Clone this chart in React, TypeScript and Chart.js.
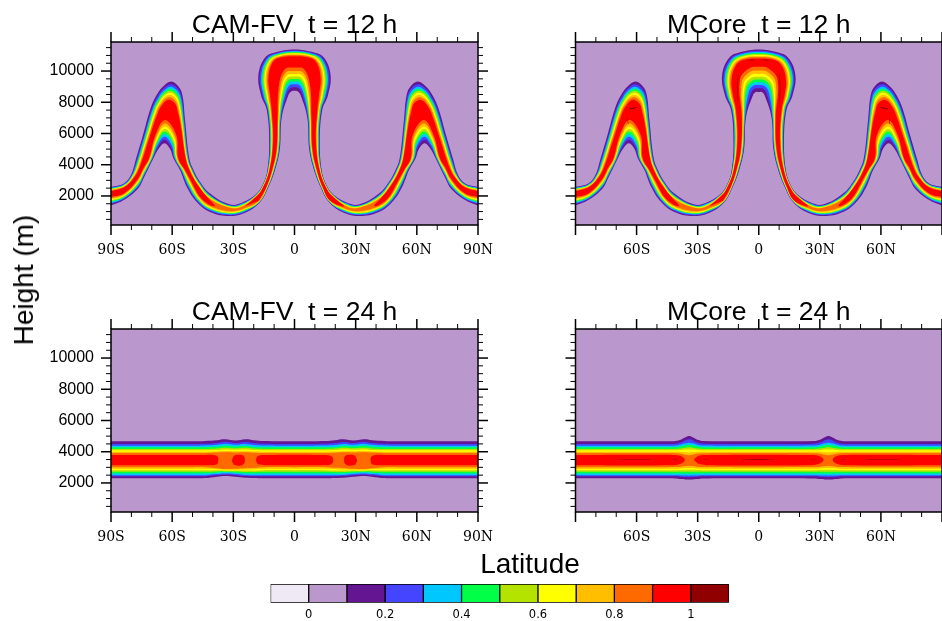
import React, { useEffect, useRef } from "react";
import { Chart, registerables } from "chart.js";
Chart.register(...registerables);

type Row = [number | number[], number | number[]];
type Pt = [number, number];

const LEVEL_COLORS = ["#631592", "#4545FF", "#00C8FF", "#00FF46", "#B5E300", "#FFFF00", "#FFBF00", "#FF6A00", "#FF0000"];
const DARK_RED = "#910000";
const BACKGROUND = "#BA97CD";
const CBAR_COLORS = ["#EFE9F5", BACKGROUND, ...LEVEL_COLORS, DARK_RED];
const CBAR_EDGES = [-0.1, 0, 0.1, 0.2, 0.3, 0.4, 0.5, 0.6, 0.7, 0.8, 0.9, 1, 1.1];
const CBAR_LABELS = [0, 0.2, 0.4, 0.6, 0.8, 1];

const LAT_MAJOR = [-90, -60, -30, 0, 30, 60, 90];
const LAT_INNER = [-60, -30, 0, 30, 60];
const LAT_MINOR = [-80, -70, -50, -40, -20, -10, 10, 20, 40, 50, 70, 80];
const HEIGHT_MAJOR = [2000, 4000, 6000, 8000, 10000];
const HEIGHT_MINOR = [500, 1000, 1500, 2500, 3000, 3500, 4500, 5000, 5500, 6500, 7000, 7500, 8500, 9000, 9500, 10500, 11000, 11500];

// t = 12 h, CAM-FV: outer side of the band, per contour 0.1 ... 0.9, from the southern edge to the equator
const TOP_12_FV: Row[] = [
  [-90, [2577, 2538, 2505, 2477, 2448, 2420, 2392, 2359, 2320]],
  [-83.3, [2833, 2795, 2762, 2734, 2706, 2679, 2651, 2618, 2580]],
  [[-80, -79.85, -79.7, -79.6, -79.5, -79.4, -79.3, -79.15, -79], [3400, 3360, 3325, 3295, 3265, 3235, 3205, 3170, 3130]],
  [[-78, -77.7, -77.4, -77.2, -77, -76.8, -76.6, -76.3, -76], [4250, 4185, 4130, 4085, 4035, 3990, 3940, 3890, 3830]],
  [[-74.5, -74, -73.7, -73.3, -73, -72.7, -72.3, -72, -71.5], [5800, 5770, 5744, 5722, 5700, 5678, 5656, 5630, 5600]],
  [[-70.5, -69.9, -69.5, -69.1, -68.7, -68.2, -67.8, -67.4, -66.8], [7650, 7614, 7583, 7556, 7530, 7504, 7477, 7446, 7410]],
  [[-67.6, -67.1, -66.7, -66.4, -66.1, -65.7, -65.4, -65, -64.5], [8470, 8385, 8310, 8248, 8185, 8122, 8060, 7985, 7900]],
  [[-64.3, -64.1, -63.9, -63.8, -63.7, -63.5, -63.4, -63.2, -63], [9030, 8890, 8770, 8667, 8565, 8463, 8360, 8240, 8100]],
  [[-60.5, -60.6, -60.6, -60.7, -60.8, -60.8, -60.9, -60.9, -61], [9330, 9153, 9000, 8870, 8740, 8610, 8480, 8327, 8150]],
  [[-57, -57.2, -57.4, -57.6, -57.8, -57.9, -58.1, -58.3, -58.5], [9030, 8860, 8714, 8589, 8465, 8341, 8216, 8070, 7900]],
  [[-55, -55.3, -55.6, -55.9, -56.2, -56.4, -56.7, -57, -57.3], [8470, 8311, 8173, 8057, 7940, 7823, 7707, 7569, 7410]],
  [[-53.7, -54, -54.3, -54.5, -54.8, -55, -55.2, -55.5, -55.8], [6870, 6815, 6766, 6726, 6685, 6644, 6604, 6556, 6500]],
  [[-51.6, -51.9, -52.2, -52.4, -52.6, -52.8, -53, -53.2, -53.4], 4417],
  [[-49.5, -49.8, -50.1, -50.3, -50.5, -50.7, -51, -51.2, -51.5], 3650],
  [[-46.3, -46.5, -46.6, -46.8, -46.9, -47, -47.2, -47.3, -47.5], [2900, 2870, 2844, 2822, 2800, 2778, 2756, 2730, 2700]],
  [[-41.4, -41.5, -41.6, -41.6, -41.7, -41.8, -41.8, -41.9, -42], [2150, 2098, 2052, 2014, 1975, 1936, 1898, 1852, 1800]],
  [[-31.6, -31.5, -31.4, -31.4, -31.3, -31.2, -31.2, -31.1, -31], [1450, 1411, 1377, 1349, 1320, 1291, 1263, 1229, 1190]],
  [[-25, -25.1, -25.1, -25.2, -25.3, -25.3, -25.4, -25.4, -25.5], [1615, 1568, 1527, 1492, 1458, 1423, 1388, 1347, 1300]],
  [[-18.5, -18.6, -18.6, -18.7, -18.8, -18.8, -18.9, -18.9, -19], [2150, 2118, 2090, 2067, 2043, 2019, 1996, 1968, 1936]],
  [[-15.3, -15.4, -15.5, -15.6, -15.7, -15.7, -15.8, -15.9, -16], [2790, 2732, 2681, 2638, 2595, 2552, 2509, 2459, 2400]],
  [[-13.3, -13.15, -13, -12.9, -12.8, -12.7, -12.6, -12.45, -12.3], 3647],
  [[-12.4, -12.1, -11.9, -11.7, -11.45, -11.2, -11, -10.8, -10.5], 5500],
  [[-13.6, -13.2, -12.9, -12.7, -12.4, -12.1, -11.9, -11.6, -11.2], 7500],
  [[-16.4, -15.7, -15.2, -14.7, -14.2, -13.7, -13.2, -12.7, -12], 8455],
  [[-17.7, -17, -16.3, -15.8, -15.25, -14.7, -14.2, -13.5, -12.8], [9737, 9705, 9678, 9654, 9631, 9608, 9584, 9557, 9525]],
  [[-14.5, -14, -13.5, -13.1, -12.75, -12.4, -12, -11.5, -11], [10846, 10794, 10749, 10711, 10673, 10635, 10597, 10552, 10500]],
  [[-9.6, -9.3, -9, -8.8, -8.55, -8.3, -8.1, -7.8, -7.5], [11190, 11139, 11095, 11057, 11020, 10983, 10945, 10901, 10850]],
  [0, [11385, 11320, 11265, 11217, 11170, 11123, 11075, 11020, 10955]],
];

const BOTTOM_12_FV: Row[] = [
  [-90, [1400, 1480, 1550, 1609, 1668, 1727, 1786, 1856, 1936]],
  [-83.3, [1770, 1833, 1888, 1935, 1981, 2027, 2074, 2129, 2192]],
  [-76.7, [2474, 2570, 2653, 2724, 2795, 2865, 2936, 3019, 3115]],
  [[-74.3, -74.25, -74.2, -74.2, -74.15, -74.1, -74.1, -74, -74], [3050, 3163, 3260, 3343, 3425, 3508, 3590, 3688, 3800]],
  [[-69.2, -69.5, -69.8, -70, -70.25, -70.5, -70.7, -71, -71.3], 4417],
  [[-66.5, -66.75, -67, -67.2, -67.35, -67.5, -67.7, -67.95, -68.2], [5050, 5179, 5291, 5385, 5480, 5575, 5669, 5781, 5910]],
  [[-63.8, -63.8, -63.7, -63.7, -63.65, -63.6, -63.6, -63.5, -63.5], [5380, 5604, 5797, 5961, 6125, 6289, 6453, 6647, 6870]],
  [[-61, -60.55, -60.2, -59.8, -59.5, -59.2, -58.8, -58.45, -58], [5000, 5137, 5255, 5355, 5455, 5555, 5655, 5774, 5910]],
  [[-59.4, -59, -58.7, -58.5, -58.2, -57.9, -57.7, -57.4, -57], 4417],
  [[-56.1, -55.7, -55.4, -55.2, -54.9, -54.6, -54.4, -54, -53.7], 3647],
  [[-52.8, -52.45, -52.15, -51.9, -51.65, -51.4, -51.1, -50.85, -50.5], [2577, 2625, 2667, 2703, 2739, 2774, 2810, 2852, 2900]],
  [[-47.9, -47.65, -47.45, -47.3, -47.1, -46.9, -46.75, -46.5, -46.3], [1615, 1663, 1705, 1740, 1776, 1811, 1846, 1888, 1936]],
  [[-41.4, -41.35, -41.3, -41.3, -41.3, -41.3, -41.25, -41.2, -41.2], [975, 1039, 1094, 1141, 1188, 1234, 1281, 1336, 1400]],
  [[-31.6, -31.5, -31.4, -31.4, -31.3, -31.2, -31.2, -31.1, -31], [718, 771, 817, 855, 894, 933, 971, 1017, 1070]],
  [[-23.4, -23.5, -23.6, -23.6, -23.7, -23.8, -23.8, -23.9, -24], [975, 1022, 1063, 1098, 1133, 1167, 1202, 1243, 1290]],
  [[-16.9, -17, -17.05, -17.1, -17.2, -17.25, -17.3, -17.4, -17.5], [1615, 1628, 1639, 1648, 1658, 1667, 1676, 1687, 1700]],
  [[-12.8, -12.95, -13.1, -13.2, -13.3, -13.4, -13.5, -13.65, -13.8], 2577],
  [[-9.6, -9.8, -10, -10.15, -10.3, -10.45, -10.6, -10.8, -11], 3647],
  [[-7.2, -7.45, -7.65, -7.8, -8, -8.2, -8.35, -8.55, -8.8], 5000],
  [[-6.3, -6.6, -6.85, -7.1, -7.3, -7.5, -7.75, -8, -8.3], 7000],
  [[-3, -3.7, -4.3, -4.8, -5.3, -5.8, -6.3, -6.9, -7.6], [8455, 8552, 8636, 8707, 8778, 8848, 8919, 9003, 9100]],
  [[-1.5, -2, -2.4, -2.75, -3.1, -3.45, -3.8, -4.2, -4.7], [8700, 8913, 9098, 9254, 9410, 9566, 9722, 9907, 10120]],
  [0, [8745, 8966, 9158, 9320, 9483, 9645, 9807, 9999, 10220]],
];

// t = 12 h, MCore: same stem and humps, its own hat
const HAT_TOP_12_MC: Row[] = [
  [[-16.6, -16, -15.5, -15.1, -14.65, -14.2, -13.8, -13.3, -12.7], 8455],
  [[-18, -17.3, -16.7, -16.2, -15.7, -15.2, -14.7, -14.1, -13.4], [9737, 9689, 9647, 9612, 9577, 9542, 9507, 9465, 9417]],
  [[-14.5, -14.05, -13.66, -13.33, -13, -12.67, -12.34, -11.95, -11.5], [10846, 10764, 10693, 10633, 10573, 10513, 10453, 10382, 10300]],
  [[-9.6, -9.3, -9.1, -8.9, -8.7, -8.5, -8.3, -8.07, -7.8], [11190, 11116, 11053, 11000, 10945, 10891, 10837, 10773, 10700]],
  [0, [11385, 11298, 11223, 11160, 11096, 11032, 10969, 10894, 10807]],
];
const HAT_BOTTOM_12_MC: Row[] = [
  [[-3, -3.9, -4.8, -5.5, -6.15, -6.8, -7.5, -8.35, -9.3], [8400, 8553, 8685, 8797, 8909, 9020, 9132, 9264, 9417]],
  [[-1.5, -2, -2.5, -2.9, -3.25, -3.6, -4, -4.5, -5], [8650, 8875, 9070, 9235, 9400, 9565, 9730, 9925, 10150]],
  [0, [8650, 8893, 9104, 9282, 9460, 9638, 9816, 10027, 10270]],
];
const TOP_12_MC: Row[] = [...TOP_12_FV.slice(0, 23), ...HAT_TOP_12_MC];
const BOTTOM_12_MC: Row[] = [...BOTTOM_12_FV.slice(0, 20), ...HAT_BOTTOM_12_MC];
const RED_TIP_SOUTH: Pt = [-39, 1360];
const RED_TIP_NORTH: Pt = [-24.3, 1340];
const DARK_12_MC: Pt[][] = [
  [[-4.5, 10720], [-4.5, 10680], [-2, 10700], [-2, 10740]],
  [[-10.2, 9800], [-10.6, 9000], [-10.4, 8100], [-10.1, 8100], [-10.3, 9000], [-9.9, 9800]],
  [[-63.5, 7600], [-60, 7700], [-60, 7640], [-63.5, 7540]],
  [[-64.5, 7000], [-64.2, 6600], [-64, 6600], [-64.3, 7000]],
];

// t = 24 h
const LAT_24_FV = [-90, -50, -44, -38, -34, -29, -24, -20, -15, 0];
const TOP_24_FV = [
  [4669, 4669, 4690, 4740, 4800, 4720, 4800, 4740, 4690, 4669],
  [4497, 4497, 4510, 4560, 4640, 4560, 4630, 4560, 4510, 4497],
  [4390, 4390, 4400, 4440, 4510, 4450, 4500, 4430, 4400, 4390],
  [4282, 4282, 4290, 4330, 4390, 4340, 4370, 4310, 4290, 4282],
  [4175, 4175, 4180, 4210, 4260, 4220, 4250, 4200, 4180, 4175],
  [4090, 4090, 4095, 4110, 4150, 4125, 4140, 4105, 4095, 4090],
  [4000, 4000, 4005, 4020, 4040, 4025, 4035, 4015, 4005, 4000],
  [3920, 3920, 3925, 3945, 3965, 3950, 3960, 3940, 3925, 3920],
];
const BOTTOM_24_FV = [
  [2304, 2304, 2310, 2400, 2440, 2400, 2330, 2320, 2304, 2304],
  [2433, 2433, 2435, 2490, 2530, 2500, 2440, 2430, 2433, 2433],
  [2497, 2497, 2500, 2570, 2610, 2580, 2510, 2500, 2497, 2497],
  [2605, 2605, 2610, 2660, 2680, 2660, 2610, 2600, 2605, 2605],
  [2712, 2712, 2715, 2740, 2740, 2735, 2700, 2700, 2712, 2712],
  [2820, 2820, 2820, 2810, 2800, 2800, 2790, 2800, 2820, 2820],
  [2906, 2906, 2905, 2880, 2850, 2850, 2860, 2885, 2906, 2906],
  [3013, 3013, 3010, 2940, 2890, 2910, 2945, 2975, 3013, 3013],
];
const RED_24_FV_SOUTH: Pt[] = [[-92, 3788], [-45, 3788], [-39, 3780], [-37.5, 3650], [-37.4, 3400], [-38, 3200], [-42, 3140], [-92, 3142]];
const RED_24_FV_BLOB: Pt[] = [[-30.8, 3440], [-29.5, 3760], [-27.5, 3800], [-25, 3740], [-24.3, 3440], [-25.2, 3180], [-27.5, 3100], [-29.8, 3160]];
const RED_24_FV_MID: Pt[] = [[-19, 3450], [-18, 3720], [-14, 3788], [14, 3788], [18, 3720], [19, 3450], [18, 3200], [14, 3142], [-14, 3142], [-18, 3200]];

const LAT_24_MC = [-90, -45, -41, -38, -36, -34.2, -32.5, -30.5, -27, 0];
const TOP_24_MC = [
  [4669, 4669, 4690, 4790, 4920, 5000, 4920, 4790, 4690, 4669],
  [4497, 4497, 4510, 4600, 4740, 4800, 4740, 4600, 4510, 4497],
  [4390, 4390, 4400, 4470, 4540, 4580, 4540, 4470, 4400, 4390],
  [4282, 4282, 4290, 4350, 4410, 4430, 4410, 4350, 4290, 4282],
  [4175, 4175, 4180, 4220, 4260, 4280, 4260, 4220, 4180, 4175],
  [4090, 4090, 4095, 4115, 4140, 4150, 4140, 4115, 4095, 4090],
  [4000, 4000, 3995, 3985, 3960, 3950, 3960, 3985, 3995, 4000],
  [3920, 3920, 3910, 3870, 3800, 3770, 3800, 3870, 3910, 3920],
];
const BOTTOM_24_MC = [
  [2304, 2304, 2290, 2250, 2225, 2218, 2225, 2250, 2290, 2304],
  [2433, 2433, 2425, 2395, 2380, 2370, 2380, 2395, 2425, 2433],
  [2497, 2497, 2495, 2480, 2470, 2465, 2470, 2480, 2495, 2497],
  [2605, 2605, 2605, 2600, 2590, 2585, 2590, 2600, 2605, 2605],
  [2712, 2712, 2712, 2715, 2715, 2715, 2715, 2715, 2712, 2712],
  [2820, 2820, 2820, 2830, 2840, 2845, 2840, 2830, 2820, 2820],
  [2906, 2906, 2910, 2925, 2950, 2965, 2950, 2925, 2910, 2906],
  [3013, 3013, 3020, 3045, 3085, 3110, 3085, 3045, 3020, 3013],
];
const RED_24_MC_SOUTH: Pt[] = [[-92, 3788], [-42, 3788], [-38, 3710], [-36.3, 3480], [-38, 3240], [-42, 3142], [-92, 3142]];
const RED_24_MC_MID: Pt[] = [[-31.9, 3480], [-30, 3710], [-26, 3788], [26, 3788], [30, 3710], [31.9, 3480], [30, 3240], [26, 3142], [-26, 3142], [-30, 3240]];
const DARK_24_MC: Pt[][] = [
  [[-70, 3492], [-53, 3492], [-53, 3468], [-70, 3468]],
  [[-42.8, 3492], [-40.3, 3492], [-40.3, 3468], [-42.8, 3468]],
  [[-27.5, 3492], [-25.5, 3492], [-25.5, 3468], [-27.5, 3468]],
  [[-8, 3492], [4, 3492], [4, 3468], [-8, 3468]],
];

const pick = (v: number | number[], i: number) => (Array.isArray(v) ? v[i] : v);
const contour = (rows: Row[], i: number): Pt[] => rows.map((r) => [pick(r[0], i), pick(r[1], i)]);
const mirror = (pts: Pt[]): Pt[] => pts.map(([a, h]) => [-a, h]);
const noEq = (pts: Pt[]) => pts.filter((p) => p[0] !== 0);

function band(top: Pt[], bottom: Pt[]): Pt[] {
  return [
    [-92, top[0][1]],
    ...top,
    ...mirror(noEq(top).reverse()),
    [92, top[0][1]],
    [92, bottom[0][1]],
    ...mirror(noEq(bottom)),
    ...bottom.slice().reverse(),
    [-92, bottom[0][1]],
  ];
}

type Poly = { pts: Pt[]; color: string };

function panel12(topRows: Row[], bottomRows: Row[], dark: Pt[][]): Poly[] {
  const out: Poly[] = [];
  for (let i = 0; i < 8; i++) out.push({ pts: band(contour(topRows, i), contour(bottomRows, i)), color: LEVEL_COLORS[i] });
  const t = contour(topRows, 8);
  const b = contour(bottomRows, 8);
  const south: Pt[] = [[-92, t[0][1]], ...t.slice(0, 16), RED_TIP_SOUTH, ...b.slice(0, 13).reverse(), [-92, b[0][1]]];
  out.push({ pts: south, color: LEVEL_COLORS[8] }, { pts: mirror(south), color: LEVEL_COLORS[8] });
  const tn = t.slice(18);
  const bn = b.slice(15);
  const mid: Pt[] = [RED_TIP_NORTH, ...tn, ...mirror(noEq(tn).reverse()), [-RED_TIP_NORTH[0], RED_TIP_NORTH[1]], ...mirror(noEq(bn)), ...bn.slice().reverse()];
  out.push({ pts: mid, color: LEVEL_COLORS[8] });
  dark.forEach((d) => out.push({ pts: d, color: DARK_RED }, { pts: mirror(d), color: DARK_RED }));
  return out;
}

function panel24(lat: number[], top: number[][], bottom: number[][], reds: Pt[][], dark: Pt[][]): Poly[] {
  const out: Poly[] = top.map((row, i) => ({
    pts: band(row.map((h, k) => [lat[k], h] as Pt), bottom[i].map((h, k) => [lat[k], h] as Pt)),
    color: LEVEL_COLORS[i],
  }));
  reds.forEach((r) => out.push({ pts: r, color: LEVEL_COLORS[8] }));
  dark.forEach((d) => out.push({ pts: d, color: DARK_RED }, { pts: mirror(d), color: DARK_RED }));
  return out;
}

const PANELS = [
  { title: "CAM-FV  t = 12 h", left: 111, top: 42, labels: true, polys: panel12(TOP_12_FV, BOTTOM_12_FV, []) },
  { title: "MCore  t = 12 h", left: 575.5, top: 42, labels: false, polys: panel12(TOP_12_MC, BOTTOM_12_MC, DARK_12_MC) },
  {
    title: "CAM-FV  t = 24 h", left: 111, top: 328.5, labels: true,
    polys: panel24(LAT_24_FV, TOP_24_FV, BOTTOM_24_FV, [RED_24_FV_SOUTH, mirror(RED_24_FV_SOUTH), RED_24_FV_BLOB, mirror(RED_24_FV_BLOB), RED_24_FV_MID], []),
  },
  {
    title: "MCore  t = 24 h", left: 575.5, top: 328.5, labels: false,
    polys: panel24(LAT_24_MC, TOP_24_MC, BOTTOM_24_MC, [RED_24_MC_SOUTH, mirror(RED_24_MC_SOUTH), RED_24_MC_MID], DARK_24_MC),
  },
];

const FRAME_W = 367;
const FRAME_H = 183;
const AXIS_W = 60.5;
const TITLE_BLOCK = 30;
const TITLE_SIZE = 26.5;
const BELOW = 40;
const RIGHT = 22;

const latLabel = (v: number) => (v === 0 ? "0" : v < 0 ? `${-v}S` : `${v}N`);

const framePlugin = {
  id: "frame",
  beforeDatasetsDraw(chart: any) {
    const { ctx, chartArea: a } = chart;
    ctx.save();
    ctx.fillStyle = BACKGROUND;
    ctx.fillRect(a.left, a.top, a.right - a.left, a.bottom - a.top);
    ctx.restore();
  },
  afterDraw(chart: any) {
    const { ctx, chartArea: a, scales } = chart;
    ctx.save();
    ctx.strokeStyle = "#000";
    const line = (x1: number, y1: number, x2: number, y2: number) => {
      ctx.beginPath();
      ctx.moveTo(x1, y1);
      ctx.lineTo(x2, y2);
      ctx.stroke();
    };
    const marks = (vals: number[], len: number, w: number) => {
      ctx.lineWidth = w;
      vals.forEach((v) => {
        const x = scales.x.getPixelForValue(v);
        line(x, a.top, x, a.top - len);
        line(x, a.bottom, x, a.bottom + len);
      });
    };
    const ymarks = (vals: number[], len: number, w: number) => {
      ctx.lineWidth = w;
      vals.forEach((v) => {
        const y = scales.y.getPixelForValue(v);
        line(a.left, y, a.left - len, y);
        line(a.right, y, a.right + len, y);
      });
    };
    marks(LAT_MAJOR, 10, 1.5);
    marks(LAT_MINOR, 5, 1);
    ymarks(HEIGHT_MAJOR, 10, 1.5);
    ymarks(HEIGHT_MINOR, 5, 1);
    ctx.lineWidth = 1.5;
    ctx.strokeRect(a.left, a.top, a.right - a.left, a.bottom - a.top);
    ctx.restore();
  },
};

function Panel({ spec }: { spec: (typeof PANELS)[number] }) {
  const ref = useRef<HTMLCanvasElement>(null);
  const leftPad = spec.labels ? spec.left : AXIS_W;
  useEffect(() => {
    const chart = new Chart(ref.current!, {
      type: "scatter",
      data: {
        datasets: spec.polys.map((p, i) => ({
          data: p.pts.map(([x, y]) => ({ x, y })),
          showLine: true,
          fill: "shape",
          backgroundColor: p.color,
          borderWidth: 0,
          pointRadius: 0,
          tension: 0.4,
          order: -i,
        })),
      } as any,
      options: {
        animation: false,
        responsive: false,
        events: [],
        layout: { autoPadding: false, padding: { left: 0, right: RIGHT, top: 0, bottom: 0 } },
        elements: { line: { capBezierPoints: false } },
        plugins: {
          legend: { display: false },
          tooltip: { enabled: false },
          title: {
            display: true,
            text: spec.title,
            fullSize: false,
            color: "#000",
            font: { family: "'Liberation Sans'", size: TITLE_SIZE, weight: "normal", lineHeight: 1 },
            padding: { top: 0, bottom: TITLE_BLOCK - TITLE_SIZE },
          },
        },
        scales: {
          x: {
            type: "linear",
            min: -90,
            max: 90,
            grid: { display: false, drawTicks: false },
            border: { display: false },
            afterBuildTicks: (s: any) => {
              s.ticks = (spec.labels ? LAT_MAJOR : LAT_INNER).map((value) => ({ value }));
            },
            afterFit: (s: any) => {
              s.height = BELOW;
              s.paddingLeft = 0;
              s.paddingRight = 0;
            },
            ticks: {
              autoSkip: false,
              maxRotation: 0,
              padding: 17,
              color: "#000",
              font: { family: "'DejaVu Serif'", size: 14 },
              callback: (v: any) => latLabel(Number(v)),
            },
          },
          y: {
            type: "linear",
            min: 140,
            max: 11860,
            grid: { display: false, drawTicks: false },
            border: { display: false },
            afterBuildTicks: (s: any) => {
              s.ticks = HEIGHT_MAJOR.map((value) => ({ value }));
            },
            afterFit: (s: any) => {
              s.width = leftPad;
              s.paddingTop = 0;
              s.paddingBottom = 0;
            },
            ticks: {
              autoSkip: false,
              padding: 17,
              color: "#000",
              font: { family: "'Liberation Sans'", size: 16 },
              callback: (v: any) => (spec.labels ? String(v) : ""),
            },
          },
        },
      } as any,
      plugins: [framePlugin],
    });
    return () => chart.destroy();
  }, []);
  return (
    <canvas
      ref={ref}
      width={leftPad + FRAME_W + RIGHT}
      height={TITLE_BLOCK + FRAME_H + BELOW}
      style={{ position: "absolute", left: spec.left - leftPad, top: spec.top - TITLE_BLOCK }}
    />
  );
}

function ColorBar() {
  const ref = useRef<HTMLCanvasElement>(null);
  useEffect(() => {
    const chart = new Chart(ref.current!, {
      type: "bar",
      data: {
        labels: [""],
        datasets: CBAR_COLORS.map((c, i) => ({
          data: [[CBAR_EDGES[i], CBAR_EDGES[i + 1]]],
          backgroundColor: c,
          borderColor: "#000",
          borderWidth: 1,
          borderSkipped: false,
          barPercentage: 1,
          categoryPercentage: 1,
          grouped: false,
        })),
      } as any,
      options: {
        indexAxis: "y",
        animation: false,
        responsive: false,
        events: [],
        layout: { autoPadding: false, padding: { left: 10.5, right: 11, top: 9, bottom: 0 } },
        plugins: { legend: { display: false }, tooltip: { enabled: false } },
        scales: {
          y: { type: "category", display: false, grid: { display: false } },
          x: {
            type: "linear",
            min: -0.1,
            max: 1.1,
            grid: { display: false, drawTicks: false },
            border: { display: false },
            afterBuildTicks: (s: any) => {
              s.ticks = CBAR_LABELS.map((value) => ({ value }));
            },
            afterFit: (s: any) => {
              s.height = 18.3;
              s.paddingLeft = 0;
              s.paddingRight = 0;
            },
            ticks: {
              autoSkip: false,
              maxRotation: 0,
              padding: 5,
              color: "#000",
              font: { family: "'DejaVu Sans'", size: 11.5 },
              callback: (v: any) => String(v),
            },
          },
        },
      } as any,
    });
    return () => chart.destroy();
  }, []);
  return <canvas ref={ref} width={480} height={46} style={{ position: "absolute", left: 260, top: 575 }} />;
}

const labelFont = "'Liberation Sans', sans-serif";

export default function App() {
  return (
    <div style={{ position: "fixed", left: 0, top: 0, width: 942, height: 621, overflow: "hidden", background: "#fff" }}>
      {PANELS.map((p) => (
        <Panel key={p.title} spec={p} />
      ))}
      <ColorBar />
      <div
        style={{
          position: "absolute", left: 24, top: 280, transform: "translate(-50%,-50%) rotate(-90deg)",
          fontFamily: labelFont, fontSize: 28, color: "#000", whiteSpace: "nowrap",
        }}
      >
        Height (m)
      </div>
      <div
        style={{
          position: "absolute", left: 530, top: 564, transform: "translate(-50%,-50%)",
          fontFamily: labelFont, fontSize: 28, color: "#000", whiteSpace: "nowrap",
        }}
      >
        Latitude
      </div>
    </div>
  );
}
